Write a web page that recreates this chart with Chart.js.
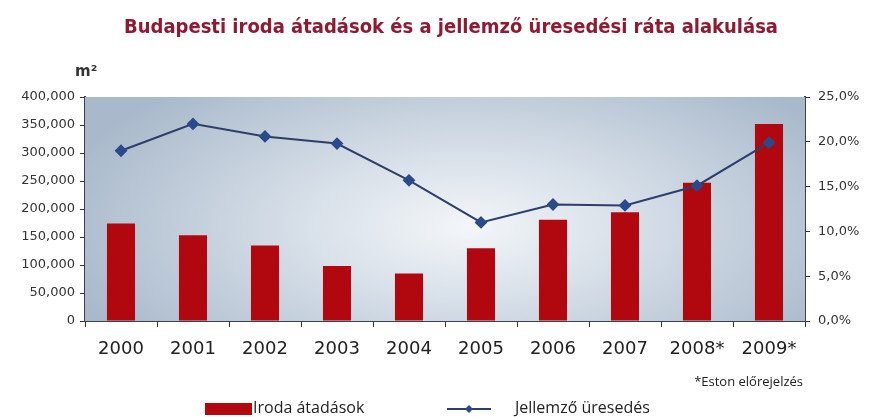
<!DOCTYPE html>
<html lang="hu">
<head>
<meta charset="utf-8">
<title>Budapesti iroda átadások</title>
<script src="https://cdn.jsdelivr.net/npm/chart.js@4/dist/chart.umd.min.js"></script>
<style>
    html, body { margin: 0; padding: 0; background: #fff; }
    #chartBox { width: 870px; height: 417px; position: relative; }
</style>
</head>
<body>
<div id="chartBox"><canvas id="officeChart" width="870" height="417"></canvas></div>
<script>
// Chart data
const years = ['2000', '2001', '2002', '2003', '2004', '2005', '2006', '2007', '2008*', '2009*'];
const deliveries = [174000, 153000, 135000, 98000, 85000, 130000, 181000, 194000, 247000, 352000];
const vacancyRate = [19.0, 22.0, 20.6, 19.8, 15.7, 11.0, 13.0, 12.9, 15.1, 19.9];

const titleText = 'Budapesti iroda átadások és a jellemző üresedési ráta alakulása';
const barLabel = 'Iroda átadások';
const lineLabel = 'Jellemző üresedés';
const noteText = '*Eston előrejelzés';

const barColor = '#b1080f';
const lineColor = '#2d3f68';
const pointColor = '#2a4a8c';

// Gradient plot background + the texts around the chart
const decorPlugin = {
    id: 'decor',
    beforeDatasetsDraw(chart) {
        const { ctx, chartArea: a } = chart;
        const cx = a.left + (a.right - a.left) * 0.53;
        const cy = a.top + (a.bottom - a.top) * 0.58;
        ctx.save();
        ctx.beginPath();
        ctx.rect(a.left, a.top, a.right - a.left, a.bottom - a.top);
        ctx.clip();
        ctx.translate(cx, cy);
        ctx.scale(1, 0.45);
        const g = ctx.createRadialGradient(0, 0, 0, 0, 0, 420);
        g.addColorStop(0, '#f3f6f9');
        g.addColorStop(0.45, '#d3dce6');
        g.addColorStop(1, '#a9b9cb');
        ctx.fillStyle = g;
        ctx.fillRect(-600, -800, 1200, 1600);
        ctx.restore();
    },
    afterDraw(chart) {
        const { ctx } = chart;
        ctx.save();

        // Title
        ctx.fillStyle = '#8e1a33';
        ctx.font = 'bold 20px "Liberation Sans Narrow", "DejaVu Sans Condensed", sans-serif';
        ctx.textAlign = 'center';
        ctx.textBaseline = 'alphabetic';
        ctx.fillText(titleText, 451, 33);

        // Unit label
        ctx.fillStyle = '#333';
        ctx.font = 'bold 15px "DejaVu Sans", sans-serif';
        ctx.textAlign = 'left';
        ctx.fillText('m²', 75, 76);

        // Forecast note
        ctx.fillStyle = '#222';
        ctx.font = '13px "Open Sans", sans-serif';
        ctx.textAlign = 'right';
        ctx.textBaseline = 'middle';
        ctx.fillText(noteText, 803, 382);

        // Legend
        ctx.fillStyle = barColor;
        ctx.fillRect(205, 403, 47, 12);
        ctx.fillStyle = '#222';
        ctx.font = '16px "Open Sans", sans-serif';
        ctx.textAlign = 'left';
        ctx.fillText(barLabel, 253, 408);

        ctx.strokeStyle = lineColor;
        ctx.lineWidth = 2;
        ctx.beginPath();
        ctx.moveTo(447, 409);
        ctx.lineTo(491, 409);
        ctx.stroke();
        ctx.fillStyle = pointColor;
        ctx.beginPath();
        ctx.moveTo(469, 405);
        ctx.lineTo(473, 409);
        ctx.lineTo(469, 413);
        ctx.lineTo(465, 409);
        ctx.closePath();
        ctx.fill();
        ctx.fillStyle = '#222';
        ctx.fillText(lineLabel, 515, 408);

        ctx.restore();
    }
};

document.addEventListener('DOMContentLoaded', () => {
    const ctx = document.getElementById('officeChart').getContext('2d');
    new Chart(ctx, {
        type: 'bar',
        data: {
            labels: years,
            datasets: [
                {
                    type: 'line',
                    label: lineLabel,
                    data: vacancyRate,
                    yAxisID: 'y1',
                    borderColor: lineColor,
                    borderWidth: 2,
                    pointStyle: 'rectRot',
                    pointRadius: 5,
                    pointBackgroundColor: pointColor,
                    pointBorderColor: pointColor,
                    tension: 0,
                    order: 0
                },
                {
                    type: 'bar',
                    label: barLabel,
                    data: deliveries,
                    yAxisID: 'y',
                    backgroundColor: barColor,
                    categoryPercentage: 1,
                    barPercentage: 0.39,
                    order: 1
                }
            ]
        },
        options: {
            responsive: false,
            animation: false,
            layout: { padding: { top: 97, left: 0, right: 0, bottom: 0 } },
            plugins: {
                legend: { display: false },
                title: { display: false },
                tooltip: { enabled: false }
            },
            scales: {
                x: {
                    grid: { drawOnChartArea: false, drawTicks: true, tickLength: 6, color: '#333', offset: true },
                    border: { display: true, color: '#3a4150', width: 2 },
                    ticks: { color: '#222', padding: 12, font: { family: 'DejaVu Sans', size: 18 } },
                    afterFit(scale) { scale.height = 96; }
                },
                y: {
                    position: 'left',
                    min: 0,
                    max: 400000,
                    ticks: {
                        stepSize: 50000,
                        color: '#333',
                        padding: 5,
                        font: { family: 'DejaVu Sans', size: 13 },
                        callback: (v) => v.toLocaleString('en-US')
                    },
                    grid: { drawOnChartArea: false, drawTicks: true, tickLength: 5, color: '#333' },
                    border: { display: true, color: '#3a4150', width: 2 },
                    afterFit(scale) { scale.width = 85; }
                },
                y1: {
                    position: 'right',
                    min: 0,
                    max: 25,
                    ticks: {
                        stepSize: 5,
                        color: '#333',
                        padding: 8,
                        font: { family: 'DejaVu Sans', size: 13 },
                        callback: (v) => v.toFixed(1).replace('.', ',') + '%'
                    },
                    grid: { drawOnChartArea: false, drawTicks: true, tickLength: 5, color: '#333' },
                    border: { display: true, color: '#3a4150', width: 2 },
                    afterFit(scale) { scale.width = 65; }
                }
            }
        },
        plugins: [decorPlugin]
    });
});
</script>
</body>
</html>
